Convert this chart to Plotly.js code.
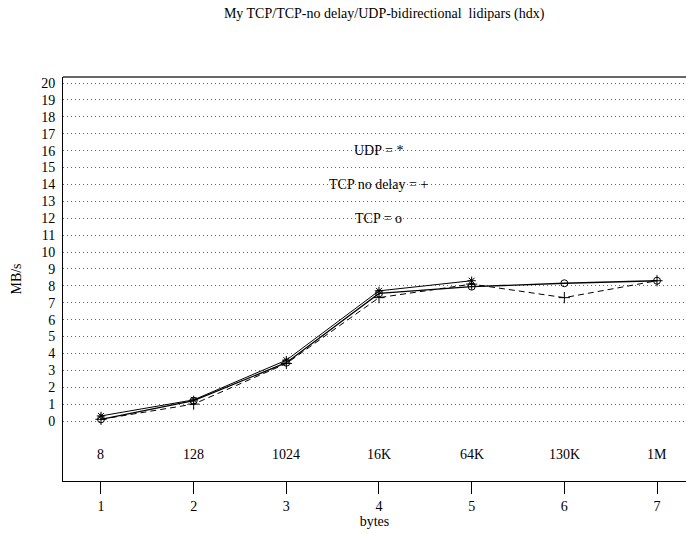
<!DOCTYPE html>
<html>
<head>
<meta charset="utf-8">
<script src="https://cdn.plot.ly/plotly-3.0.1.min.js"></script>
<style>
  html, body { margin: 0; padding: 0; background: #fff; }
  #chart { width: 686px; height: 533px; }
</style>
</head>
<body>
<div id="chart"></div>
<script>
// Transfer rate (MB/s) against message size step
const steps = [1, 2, 3, 4, 5, 6, 7];
const sizeLabels = ['8', '128', '1024', '16K', '64K', '130K', '1M'];
const tcp = [0.1, 1.2, 3.45, 7.55, 7.95, 8.15, 8.3];
const tcpNoDelay = [0.1, 1.0, 3.4, 7.3, 8.1, 7.3, 8.3];
const udpSteps = [1, 2, 3, 4, 5];
const udp = [0.3, 1.25, 3.6, 7.7, 8.3];
const yTicks = [0, 1, 2, 3, 4, 5, 6, 7, 8, 9, 10, 11, 12, 13, 14, 15, 16, 17, 18, 19, 20];
const keyLines = [
  { y: 16, text: 'UDP = *' },
  { y: 14, text: 'TCP no delay = +' },
  { y: 12, text: 'TCP = o' }
];

const FONT = "'Liberation Serif', 'Times New Roman', serif";

const traces = [
  {
    x: steps, y: tcp, type: 'scatter', mode: 'lines+markers',
    line: { color: '#000', width: 1.3 },
    marker: { symbol: 'circle-open', size: 7, color: '#000', line: { width: 1 } },
    name: 'TCP'
  },
  {
    x: steps, y: tcpNoDelay, type: 'scatter', mode: 'lines+markers',
    line: { color: '#000', width: 1, dash: '6px,4px' },
    marker: { symbol: 'cross-thin-open', size: 8, color: '#000', line: { width: 1, color: '#000' } },
    name: 'TCP no delay'
  },
  {
    x: udpSteps, y: udp, type: 'scatter', mode: 'lines+markers',
    line: { color: '#000', width: 1 },
    marker: { symbol: 'asterisk-open', size: 7, color: '#000', line: { width: 1, color: '#000' } },
    name: 'UDP'
  }
];

const annotations = [];
steps.forEach((s, i) => {
  annotations.push({
    x: s, y: -2, xref: 'x', yref: 'y', text: sizeLabels[i], showarrow: false,
    font: { family: FONT, size: 14, color: '#000' }
  });
});
keyLines.forEach(k => {
  annotations.push({
    x: 4, y: k.y, xref: 'x', yref: 'y', text: k.text, showarrow: false,
    font: { family: FONT, size: 14, color: '#000' }
  });
});

const layout = {
  width: 686, height: 533,
  margin: { l: 63, r: 0, t: 77, b: 52 },
  paper_bgcolor: '#fff', plot_bgcolor: '#fff',
  showlegend: false,
  font: { family: FONT, size: 14, color: '#000' },
  title: {
    text: 'My TCP/TCP-no delay/UDP-bidirectional  lidipars (hdx)',
    x: 0.56, xanchor: 'center', y: 0.975, yanchor: 'middle',
    font: { family: FONT, size: 14, color: '#000' }
  },
  xaxis: {
    range: [0.59, 7.313],
    tickmode: 'array', tickvals: steps, ticktext: steps.map(String),
    ticks: 'outside', ticklen: 12, tickwidth: 1, tickcolor: '#000',
    showgrid: false, zeroline: false,
    showline: true, linecolor: '#000', linewidth: 1,
    tickfont: { family: FONT, size: 14, color: '#000' },
    title: { text: 'bytes', standoff: 2, font: { family: FONT, size: 14, color: '#000' } }
  },
  yaxis: {
    range: [-3.55, 20.355],
    tickmode: 'array', tickvals: yTicks,
    ticks: '', ticklabelstandoff: 4,
    showgrid: true, gridcolor: '#666', gridwidth: 1, griddash: '1px,3px',
    zeroline: false,
    showline: true, linecolor: '#000', linewidth: 1,
    tickfont: { family: FONT, size: 14, color: '#000' },
    title: { text: 'MB/s', standoff: 16, font: { family: FONT, size: 14, color: '#000' } }
  },
  shapes: [
    { type: 'line', xref: 'paper', yref: 'paper', x0: 0, x1: 1, y0: 1, y1: 1,
      line: { color: '#666', width: 2 } }
  ],
  annotations: annotations
};

Plotly.newPlot('chart', traces, layout, { displayModeBar: false, staticPlot: true });
</script>
</body>
</html>
